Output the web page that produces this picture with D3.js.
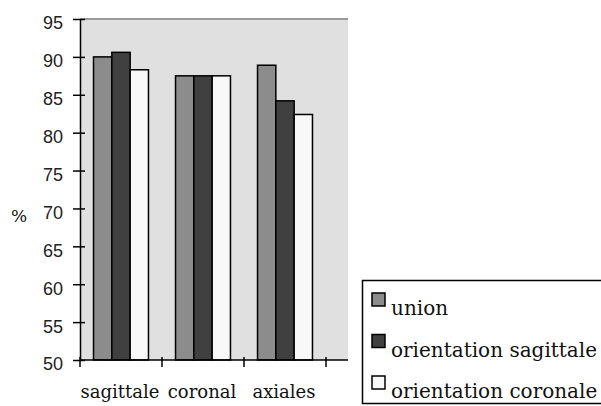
<!DOCTYPE html>
<html>
<head>
<meta charset="utf-8">
<script src="https://cdn.jsdelivr.net/npm/d3@7"></script>
<style>
  html, body { margin: 0; padding: 0; background: #fff; }
  svg { display: block; }
</style>
</head>
<body>
<svg id="chart" width="601" height="406"></svg>
<script>
// Recognition rates (%) per view, for each method
const categories = ["sagittale", "coronal", "axiales"];
const seriesNames = ["union", "orientation sagittale", "orientation coronale"];
const unionValues = [90.0, 87.5, 88.9];
const sagittalValues = [90.6, 87.5, 84.2];
const coronalValues = [88.3, 87.5, 82.4];
const yTicks = [50, 55, 60, 65, 70, 75, 80, 85, 90, 95];
const yLabel = "%";

const seriesValues = [unionValues, sagittalValues, coronalValues];
const fills = ["#8c8c8c", "#404040", "#f8f8f8"];

const svg = d3.select("#chart");

const plotLeft = 80, plotRight = 348, plotTop = 19, plotBottom = 360;

const y = d3.scaleLinear().domain([50, 95]).range([plotBottom, plotTop]);
const x = d3.scaleBand().domain(categories).range([plotLeft, 326]).padding(0);
const groupW = x.bandwidth() * 0.67;
const xs = d3.scaleBand().domain(seriesNames)
  .range([(x.bandwidth() - groupW) / 2, (x.bandwidth() + groupW) / 2]).padding(0);

// plot background
svg.append("rect")
  .attr("x", plotLeft).attr("y", plotTop)
  .attr("width", plotRight - plotLeft).attr("height", plotBottom - plotTop)
  .attr("fill", "#e0e0e0");
svg.append("line")
  .attr("x1", plotLeft).attr("x2", plotRight)
  .attr("y1", plotTop).attr("y2", plotTop)
  .attr("stroke", "#9a9a9a").attr("stroke-width", 2);

// bars
const rows = [];
categories.forEach((c, i) => {
  seriesNames.forEach((s, j) => rows.push({ cat: c, ser: s, v: seriesValues[j][i], j }));
});
svg.append("g").selectAll("rect").data(rows).join("rect")
  .attr("x", d => x(d.cat) + xs(d.ser))
  .attr("y", d => y(d.v))
  .attr("width", xs.bandwidth())
  .attr("height", d => y(50) - y(d.v))
  .attr("fill", d => fills[d.j])
  .attr("stroke", "#000")
  .attr("stroke-width", 1.5);

// y axis
const yAxis = svg.append("g")
  .attr("transform", `translate(${plotLeft},0)`)
  .call(d3.axisLeft(y).tickValues(yTicks).tickSize(7).tickPadding(10).tickSizeOuter(0));
yAxis.select(".domain").attr("stroke", "#000").attr("stroke-width", 1.5);
yAxis.selectAll(".tick line").attr("stroke", "#000").attr("stroke-width", 1.5)
  .attr("x1", -7).attr("x2", 5);
yAxis.selectAll(".tick text")
  .attr("font-family", "Liberation Sans, Arial, sans-serif")
  .attr("font-size", 18).attr("fill", "#222")
  .attr("x", -17).attr("dy", "0.55em");

// x axis
svg.append("line")
  .attr("x1", plotLeft).attr("x2", plotRight)
  .attr("y1", plotBottom).attr("y2", plotBottom)
  .attr("stroke", "#000").attr("stroke-width", 1.5);
const bounds = categories.map(c => x(c)).concat([x(categories[categories.length - 1]) + x.bandwidth()]);
svg.append("g").selectAll("line").data(bounds).join("line")
  .attr("x1", d => d).attr("x2", d => d)
  .attr("y1", plotBottom - 3).attr("y2", plotBottom + 7)
  .attr("stroke", "#000").attr("stroke-width", 1.5);
svg.append("g").selectAll("text").data(categories).join("text")
  .attr("x", d => x(d) + x.bandwidth() / 2 - 1)
  .attr("y", 398)
  .attr("text-anchor", "middle")
  .attr("font-family", "DejaVu Serif, serif")
  .attr("font-size", 18)
  .attr("fill", "#111")
  .text(d => d);

// y axis title
svg.append("text")
  .attr("x", 19).attr("y", 222)
  .attr("text-anchor", "middle")
  .attr("font-family", "DejaVu Serif, serif")
  .attr("font-size", 17)
  .attr("fill", "#111")
  .text(yLabel);

// legend
const legend = svg.append("g");
legend.append("rect")
  .attr("x", 362.5).attr("y", 280.5)
  .attr("width", 260).attr("height", 123)
  .attr("fill", "#fff").attr("stroke", "#000").attr("stroke-width", 1.5);
const items = legend.selectAll("g.item").data(seriesNames).join("g")
  .attr("class", "item")
  .attr("transform", (d, i) => `translate(372,${293 + i * 41.5})`);
items.append("rect")
  .attr("width", 13).attr("height", 13)
  .attr("fill", (d, i) => fills[i])
  .attr("stroke", "#000").attr("stroke-width", 1.5);
items.append("text")
  .attr("x", 19).attr("y", 22)
  .attr("font-family", "DejaVu Serif, serif")
  .attr("font-size", 20)
  .attr("fill", "#111")
  .text(d => d);
</script>
</body>
</html>
